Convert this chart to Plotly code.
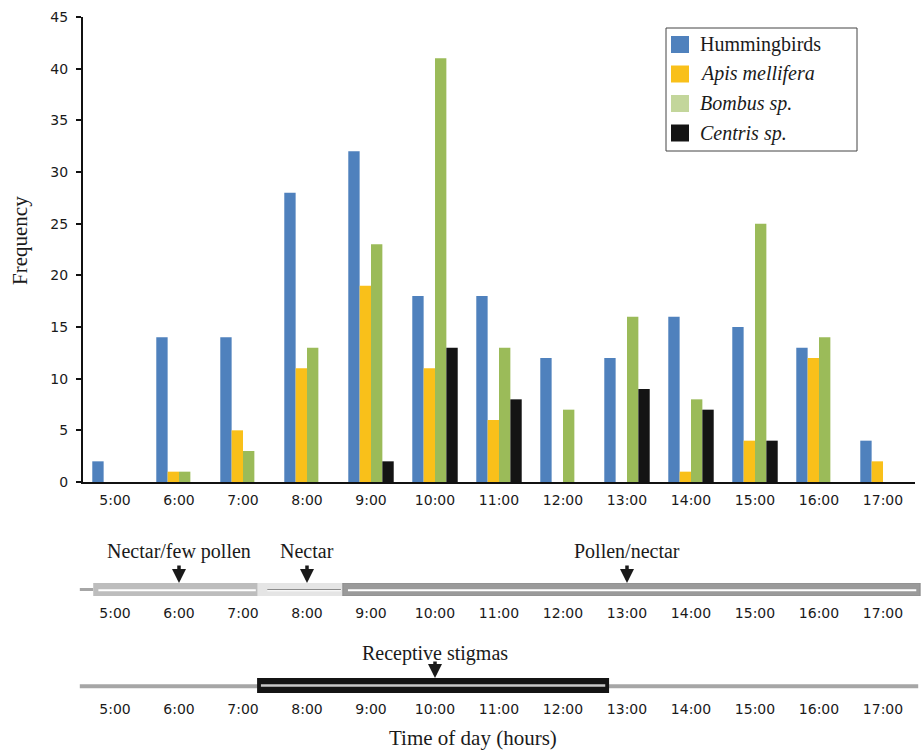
import plotly.graph_objects as go

# ---------------- data ----------------
times = ["5:00", "6:00", "7:00", "8:00", "9:00", "10:00", "11:00",
         "12:00", "13:00", "14:00", "15:00", "16:00", "17:00"]
hours = [5, 6, 7, 8, 9, 10, 11, 12, 13, 14, 15, 16, 17]

hummingbirds = [2, 14, 14, 28, 32, 18, 18, 12, 12, 16, 15, 13, 4]
apis_mellifera = [0, 1, 5, 11, 19, 11, 6, 0, 0, 1, 4, 12, 2]
bombus_sp = [0, 1, 3, 13, 23, 41, 13, 7, 16, 8, 25, 14, 0]
centris_sp = [0, 0, 0, 0, 2, 13, 8, 0, 9, 7, 4, 0, 0]

series_names = ["Hummingbirds", "<i>Apis mellifera</i>", "<i>Bombus sp.</i>", "<i>Centris sp.</i>"]
series_values = [hummingbirds, apis_mellifera, bombus_sp, centris_sp]
series_colors = ["#4F81BD", "#F9C01A", "#9BBB59", "#141414"]
legend_colors = ["#4F81BD", "#F9C01A", "#C3D69B", "#141414"]

# floral reward phases (hours)
phase_labels = ["Nectar/few pollen", "Nectar", "Pollen/nectar"]
phase_start = [4.66, 7.23, 8.56]
phase_end = [7.23, 8.56, 17.58]
phase_arrow = [6, 8, 13]
phase_fill = ["#BDBDBD", "#E5E5E5", "#9A9A9A"]

stigma_label = "Receptive stigmas"
stigma_start = 7.22
stigma_end = 12.72
stigma_arrow = 10

timeline_start = 4.45
timeline_end = 17.55

# ---------------- layout helpers ----------------
W, H = 923, 751
def px(x):
    return x / W
def py(y):
    return 1 - y / H

SERIF = "Liberation Serif"
SANS = "DejaVu Sans"
INK = "#1a1a1a"

fig = go.Figure()

for name, vals, col in zip(series_names, series_values, series_colors):
    fig.add_trace(go.Bar(
        x=times, y=vals, name=name,
        marker=dict(color=col, line=dict(width=0)),
        xaxis="x", yaxis="y", showlegend=False,
    ))

# invisible traces to activate the timeline axes
fig.add_trace(go.Scatter(x=hours, y=[None] * len(hours), xaxis="x2", yaxis="y2",
                         showlegend=False, hoverinfo="skip"))
fig.add_trace(go.Scatter(x=hours, y=[None] * len(hours), xaxis="x3", yaxis="y3",
                         showlegend=False, hoverinfo="skip"))

# strip axes share the pixel scale of the category axis (64 px per hour, 5:00 at x=115)
strip_range = [5 + (78 - 115) / 64, 5 + (922 - 115) / 64]
strip_domain = [px(78), px(922)]

shapes = []
annotations = []

# ---- custom legend box ----
shapes.append(dict(type="rect", xref="paper", yref="paper", x0=px(666), x1=px(857),
                   y0=py(151), y1=py(28), fillcolor="white", line=dict(color="#444", width=1)))
row_y = [44.5, 74, 103.5, 133]
for name, col, ry in zip(series_names, legend_colors, row_y):
    shapes.append(dict(type="rect", xref="paper", yref="paper", x0=px(671), x1=px(689),
                       y0=py(ry + 8.5), y1=py(ry - 8.5), fillcolor=col, line=dict(width=0)))
    annotations.append(dict(xref="paper", yref="paper", x=px(698), y=py(ry), text=name,
                            showarrow=False, xanchor="left", yanchor="middle",
                            font=dict(family=SERIF, size=20, color=INK)))

# ---- strip 1: floral rewards ----
shapes.append(dict(type="line", xref="x2", yref="y2", x0=timeline_start, x1=phase_start[0],
                   y0=0.5, y1=0.5, line=dict(color="#A6A6A6", width=3), layer="below"))
for s, e, c in zip(phase_start, phase_end, phase_fill):
    shapes.append(dict(type="rect", xref="x2", yref="y2", x0=s, x1=e, y0=0, y1=1,
                       fillcolor=c, line=dict(color=c, width=0)))
shapes.append(dict(type="line", xref="x2", yref="y2", x0=phase_start[0] + 0.08, x1=phase_end[0] - 0.03,
                   y0=0.45, y1=0.45, line=dict(color="white", width=2)))
shapes.append(dict(type="line", xref="x2", yref="y2", x0=phase_start[1] + 0.15, x1=phase_end[1] - 0.03,
                   y0=0.5, y1=0.5, line=dict(color="#8C8C8C", width=1)))
shapes.append(dict(type="line", xref="x2", yref="y2", x0=phase_start[1] + 0.15, x1=phase_end[1] - 0.03,
                   y0=0.4, y1=0.4, line=dict(color="white", width=1)))
shapes.append(dict(type="line", xref="x2", yref="y2", x0=phase_start[2] + 0.08, x1=phase_end[2] - 0.06,
                   y0=0.45, y1=0.45, line=dict(color="white", width=2)))
shapes.append(dict(type="rect", xref="x2", yref="y2", x0=phase_start[2], x1=phase_end[2], y0=0, y1=1,
                   fillcolor="rgba(0,0,0,0)", line=dict(color="#8C8C8C", width=1)))

# ---- strip 2: stigma receptivity ----
shapes.append(dict(type="line", xref="x3", yref="y3", x0=timeline_start, x1=timeline_end,
                   y0=0.45, y1=0.45, line=dict(color="#A6A6A6", width=4), layer="below"))
shapes.append(dict(type="rect", xref="x3", yref="y3", x0=stigma_start, x1=stigma_end, y0=0, y1=1,
                   fillcolor="#141414", line=dict(color="#141414", width=0)))
shapes.append(dict(type="line", xref="x3", yref="y3", x0=stigma_start + 0.06, x1=stigma_end - 0.06,
                   y0=0.5, y1=0.5, line=dict(color="#C8C8C8", width=2.5)))

for lab, a in zip(phase_labels, phase_arrow):
    annotations.append(dict(xref="x2", yref="y2", x=a, y=1, ax=0, ay=-19, text="",
                            showarrow=True, arrowhead=2, arrowsize=0.8, arrowwidth=3.5,
                            arrowcolor=INK))
    annotations.append(dict(xref="x2", yref="paper", x=a, y=py(551), text=lab, showarrow=False,
                            xanchor="center", yanchor="middle",
                            font=dict(family=SERIF, size=20, color=INK)))
annotations.append(dict(xref="x3", yref="y3", x=stigma_arrow, y=1, ax=0, ay=-18, text="",
                        showarrow=True, arrowhead=2, arrowsize=0.8, arrowwidth=3.5,
                        arrowcolor=INK))
annotations.append(dict(xref="x3", yref="paper", x=stigma_arrow, y=py(653), text=stigma_label,
                        showarrow=False, xanchor="center", yanchor="middle",
                        font=dict(family=SERIF, size=20, color=INK)))
annotations.append(dict(xref="paper", yref="paper", x=px(20), y=py(241), text="Frequency",
                        textangle=-90, showarrow=False, xanchor="center", yanchor="middle",
                        font=dict(family=SERIF, size=21, color=INK)))
annotations.append(dict(xref="paper", yref="paper", x=px(473), y=py(738), text="Time of day (hours)",
                        showarrow=False, xanchor="center", yanchor="middle",
                        font=dict(family=SERIF, size=21, color=INK)))

tickfont = dict(family=SANS, size=14, color=INK)

fig.update_layout(
    width=W, height=H,
    margin=dict(l=0, r=0, t=0, b=0, pad=0, autoexpand=False),
    paper_bgcolor="white", plot_bgcolor="rgba(0,0,0,0)",
    barmode="group", bargap=0.29, bargroupgap=0,
    showlegend=False,
    xaxis=dict(domain=[px(83), px(915)], range=[-0.5, 12.5], type="category",
               showline=True, linecolor="#111", linewidth=2, ticks="",
               showgrid=False, zeroline=False, tickfont=tickfont, anchor="y",
               ticklabelstandoff=4, automargin=False),
    yaxis=dict(domain=[py(482), py(17)], range=[0, 45], dtick=5, tick0=0,
               showline=True, linecolor="#111", linewidth=2, ticks="outside",
               ticklen=5, tickwidth=2, tickcolor="#111", showgrid=False, zeroline=False,
               tickfont=tickfont, anchor="x", ticklabelstandoff=5, automargin=False),
    xaxis2=dict(domain=strip_domain, range=strip_range, anchor="y2",
                tickvals=hours, ticktext=times, showline=False, ticks="",
                showgrid=False, zeroline=False, tickfont=tickfont, ticklabelstandoff=7,
                automargin=False),
    yaxis2=dict(domain=[py(596), py(583)], range=[0, 1], visible=False, anchor="x2"),
    xaxis3=dict(domain=strip_domain, range=strip_range, anchor="y3",
                tickvals=hours, ticktext=times, showline=False, ticks="",
                showgrid=False, zeroline=False, tickfont=tickfont, ticklabelstandoff=6,
                automargin=False),
    yaxis3=dict(domain=[py(693), py(678)], range=[0, 1], visible=False, anchor="x3"),
    shapes=shapes,
    annotations=annotations,
)

fig.write_html("out.html", config={"displayModeBar": False},
               post_script="document.body.style.margin='0';document.body.style.overflow='hidden';")
